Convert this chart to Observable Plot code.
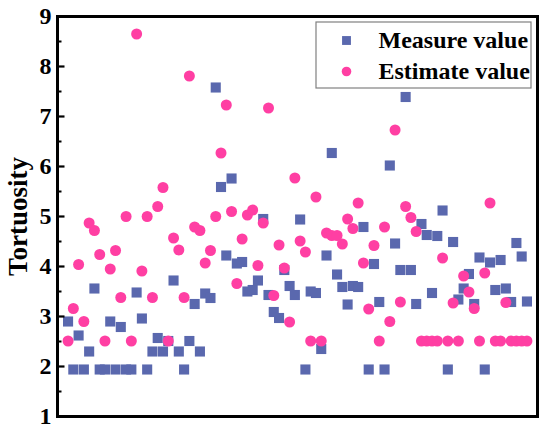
<!DOCTYPE html>
<html><head><meta charset="utf-8">
<script src="https://cdn.jsdelivr.net/npm/d3@7"></script>
<script src="https://cdn.jsdelivr.net/npm/@observablehq/plot@0.6"></script>
<style>body{margin:0;background:#fff}#chart{width:550px;height:432px}</style>
</head><body><div id="chart"></div>
<script>
const measure = [2.9,1.94,2.62,1.94,2.3,3.56,1.94,1.94,2.9,1.94,2.79,1.94,1.94,3.48,2.96,1.94,2.3,2.57,2.3,2.51,
  3.72,2.3,1.94,2.51,3.25,2.3,3.46,3.37,7.58,5.59,4.22,5.76,4.06,4.09,3.5,3.53,3.72,4.95,3.43,3.09,
  2.97,3.93,3.61,3.43,4.94,1.94,3.5,3.47,2.35,4.22,6.27,3.84,3.59,3.24,3.61,3.59,4.79,1.94,4.05,3.29,
  1.94,6.02,4.46,3.93,7.39,3.93,3.25,4.85,4.63,3.47,4.61,5.12,1.94,4.49,3.34,3.56,3.85,3.25,4.18,1.94,
  4.08,3.53,4.13,3.56,3.29,4.47,4.2,3.3];
const estimate = [2.51,3.16,4.04,2.9,4.87,4.72,4.24,2.51,3.95,4.32,3.38,5.0,2.51,8.65,3.91,5.0,3.38,5.2,5.58,2.51,
  4.57,4.33,3.38,7.81,4.79,4.72,4.07,4.32,5.0,6.27,7.23,5.1,3.66,4.55,5.03,5.13,4.02,4.87,7.17,3.42,
  4.43,3.97,2.89,5.77,4.51,4.29,2.51,5.39,2.51,4.67,4.62,4.62,4.45,4.95,4.76,5.27,4.07,3.15,4.42,2.51,
  4.79,2.9,6.73,3.29,5.2,4.98,4.7,2.51,2.51,2.51,2.51,4.17,2.51,3.27,2.51,3.81,3.49,3.16,2.51,3.87,
  5.27,2.51,2.51,3.28,2.51,2.51,2.51,2.51];
const seriesNames = ["Measure value", "Estimate value"];
const seriesColors = ["#5a68ae", "#ff3fa3"];
const yTicks = [1, 2, 3, 4, 5, 6, 7, 8, 9];
const yMinorTicks = [1.5, 2.5, 3.5, 4.5, 5.5, 6.5, 7.5, 8.5];
const yLabel = "Tortuosity";

const measureData = measure.map((v, i) => ({i: i + 1, v}));
const estimateData = estimate.map((v, i) => ({i: i + 1, v}));

const W = 550, ML = 57, MR = 13;
const frameW = W - ML - MR;

const legendBox = (index, scales, values, dims) => {
  const g = d3.create("svg:g");
  const right = dims.width - dims.marginRight;
  g.append("rect")
    .attr("x", right - 221).attr("y", dims.marginTop + 6)
    .attr("width", 215).attr("height", 66)
    .attr("fill", "white").attr("stroke", "#808080").attr("stroke-width", 1.2);
  return g.node();
};

const font = {fontFamily: "'Liberation Serif', 'Times New Roman', serif", fontWeight: "bold"};

const chart = Plot.plot({
  width: W, height: 432,
  marginLeft: ML, marginRight: MR, marginTop: 16, marginBottom: 16,
  style: {background: "white", fontFamily: font.fontFamily, color: "black"},
  x: {domain: [-1, 90], axis: null},
  y: {domain: [1, 9], label: null, axis: null},
  marks: [
    Plot.dot(measureData, {x: "i", y: "v", symbol: "square", r: 5.7, fill: seriesColors[0]}),
    Plot.dot(estimateData, {x: "i", y: "v", symbol: "circle", r: 5.5, fill: seriesColors[1]}),
    Plot.axisY(yTicks, {tickSize: 0, tickPadding: 6, tickFormat: d => String(d), fontSize: 24, ...font, label: null}),
    Plot.text([yLabel], {frameAnchor: "left", textAnchor: "middle", lineAnchor: "middle", rotate: -90, dx: -39, fontSize: 27, ...font}),
    legendBox,
    Plot.dot([seriesNames[0]], {frameAnchor: "top-right", dx: -191, dy: 24, symbol: "square", r: 5, fill: seriesColors[0]}),
    Plot.dot([seriesNames[1]], {frameAnchor: "top-right", dx: -191, dy: 55, symbol: "circle", r: 4.8, fill: seriesColors[1]}),
    Plot.text([seriesNames[0]], {text: d => d, frameAnchor: "top-right", dx: -159, dy: 24, textAnchor: "start", lineAnchor: "middle", fontSize: 24, ...font}),
    Plot.text([seriesNames[1]], {text: d => d, frameAnchor: "top-right", dx: -159, dy: 55, textAnchor: "start", lineAnchor: "middle", fontSize: 24, ...font}),
    Plot.frame({stroke: "black", strokeWidth: 3}),
    Plot.tickY(yTicks, {y: d => d, stroke: "black", strokeWidth: 2.2, insetRight: frameW - 7.5}),
    Plot.tickY(yMinorTicks, {y: d => d, stroke: "black", strokeWidth: 2, insetRight: frameW - 4.5})
  ]
});
document.getElementById("chart").appendChild(chart);
</script>
</body></html>
